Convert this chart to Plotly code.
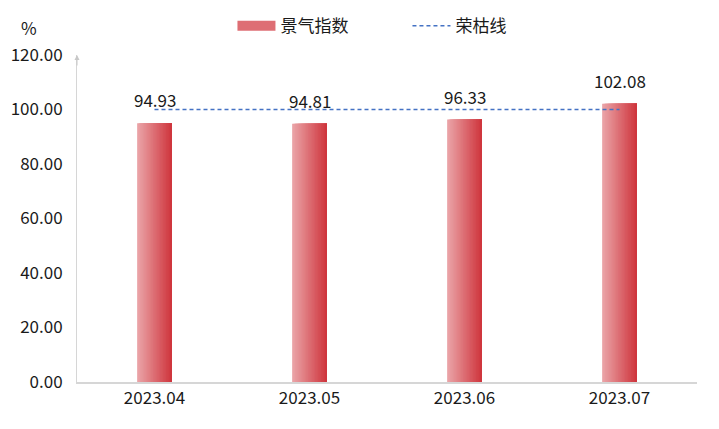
import plotly.graph_objects as go

categories = ["2023.04", "2023.05", "2023.06", "2023.07"]
index_values = [94.93, 94.81, 96.33, 102.08]
threshold_values = [100, 100, 100, 100]
y_ticks = [0, 20, 40, 60, 80, 100, 120]

FONT = "Noto Sans CJK SC, Microsoft YaHei, sans-serif"
left_rgb = (234, 164, 167)
right_rgb = (207, 54, 62)

fig = go.Figure()

N = 24
total_w = 0.224
sw = total_w / N
for i in range(N):
    t = i / (N - 1)
    r = round(left_rgb[0] + (right_rgb[0] - left_rgb[0]) * t)
    g = round(left_rgb[1] + (right_rgb[1] - left_rgb[1]) * t)
    b = round(left_rgb[2] + (right_rgb[2] - left_rgb[2]) * t)
    fig.add_trace(go.Bar(
        x=categories, y=index_values,
        width=total_w - i * sw, offset=-total_w / 2 + i * sw,
        marker=dict(color=f"rgb({r},{g},{b})", line=dict(width=0)),
        name="景气指数", showlegend=False, legendgroup="idx",
        hoverinfo="skip",
    ))

# legend entry for the bars (wide swatch)
fig.add_trace(go.Scatter(
    x=[None], y=[None], mode="lines", name="景气指数", legendgroup="idx",
    line=dict(color="rgb(222,110,116)", width=11), legendrank=1,
))

fig.add_trace(go.Scatter(
    x=categories, y=threshold_values, mode="lines", name="荣枯线",
    line=dict(color="#4472C4", width=1.5, dash="4px,3px"), legendrank=2,
))

for idx, v in enumerate(index_values):
    fig.add_annotation(x=idx, y=v, text=f"{v:.2f}", showarrow=False,
                       yanchor="bottom", yshift=9,
                       font=dict(family=FONT, size=17, color="#1a1a1a"))

fig.add_annotation(xref="paper", yref="paper", x=-0.078, y=1.083, text="%",
                   showarrow=False, xanchor="center", yanchor="middle",
                   font=dict(family=FONT, size=17, color="#1a1a1a"))

# axis arrow
fig.add_annotation(xref="paper", yref="y", x=0, y=120, ax=0, ay=12,
                   showarrow=True, arrowhead=2, arrowsize=1, arrowwidth=1,
                   arrowcolor="#C8C8C8", text="")

fig.update_layout(
    width=711, height=421,
    margin=dict(l=69, r=22, t=47, b=47, autoexpand=False),
    plot_bgcolor="white", paper_bgcolor="white",
    barmode="overlay",
    font=dict(family=FONT, size=17, color="#1a1a1a"),
    legend=dict(orientation="h", x=0.533, xanchor="center", y=0.957, yanchor="middle",
                yref="container", font=dict(size=17), itemwidth=38,
                entrywidthmode="pixels", entrywidth=122),
    xaxis=dict(type="category", range=[-0.5, 3.5], showgrid=False, showline=True,
               linecolor="#D6D6D6", linewidth=1.5, ticks="", tickfont=dict(size=17)),
    yaxis=dict(range=[0, 120], tickvals=y_ticks, tickformat=".2f", showgrid=False,
               zeroline=False, showline=True, linecolor="#D6D6D6", linewidth=1,
               ticks="", tickfont=dict(size=17), ticklabelstandoff=10),
)

fig.write_html("out.html")
